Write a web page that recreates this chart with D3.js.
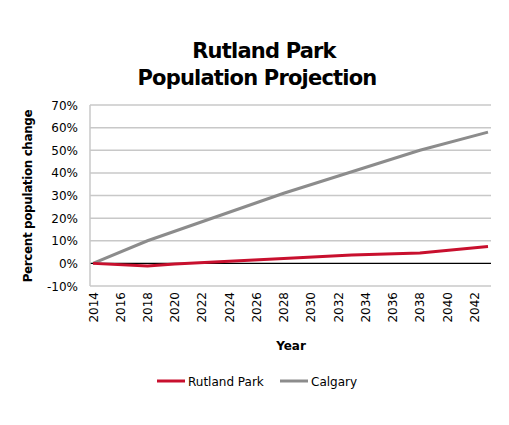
<!DOCTYPE html><html><head><script src="https://cdn.jsdelivr.net/npm/d3@7"></script>
<style>body{margin:0;background:#fff}text{font-family:"DejaVu Sans",sans-serif}</style></head><body>
<svg id="c" width="509" height="425"></svg>
<script>
const yearsRP=[2014,2018,2020,2028,2033,2038,2043];
const valsRP=[0,-1.2,-0.3,2.2,3.7,4.6,7.5];
const yearsCal=[2014,2018,2028,2038,2043];
const valsCal=[0,10,31,50,58];
const xTicks=[2014,2016,2018,2020,2022,2024,2026,2028,2030,2032,2034,2036,2038,2040,2042];
const yTicks=[-10,0,10,20,30,40,50,60,70];
const svg=d3.select("#c");
const x=d3.scaleLinear().domain([2014,2043]).range([93,488]);
const y=d3.scaleLinear().domain([-10,70]).range([286,105]);
svg.append("text").attr("x",264).attr("y",58).attr("text-anchor","middle").attr("font-size",21).attr("font-weight","bold").attr("letter-spacing",-0.8).text("Rutland Park");
svg.append("text").attr("x",257).attr("y",85).attr("text-anchor","middle").attr("font-size",21).attr("font-weight","bold").attr("letter-spacing",-0.8).text("Population Projection");
yTicks.forEach(t=>{svg.append("line").attr("x1",90).attr("x2",491).attr("y1",y(t)).attr("y2",y(t)).attr("stroke",t===0?"#000":"#c8c8c8").attr("stroke-width",t===0?1.2:1.5);
svg.append("text").attr("x",78).attr("y",y(t)+4.5).attr("text-anchor","end").attr("font-size",12).text(t+"%");});
svg.append("line").attr("x1",90).attr("x2",90).attr("y1",105).attr("y2",286).attr("stroke","#c8c8c8").attr("stroke-width",1.5);
xTicks.forEach(t=>svg.append("text").attr("transform",`translate(${x(t)+4.5},292) rotate(-90)`).attr("text-anchor","end").attr("font-size",12).text(t));
svg.append("text").attr("x",291).attr("y",350).attr("text-anchor","middle").attr("font-size",12).attr("font-weight","bold").text("Year");
svg.append("text").attr("transform","translate(32,196) rotate(-90)").attr("text-anchor","middle").attr("font-size",12).attr("font-weight","bold").attr("letter-spacing",-0.4).text("Percent population change");
const line=d3.line().x(d=>x(d[0])).y(d=>y(d[1]));
svg.append("path").attr("d",line(yearsCal.map((v,i)=>[v,valsCal[i]]))).attr("fill","none").attr("stroke","#8c8c8c").attr("stroke-width",3);
svg.append("path").attr("d",line(yearsRP.map((v,i)=>[v,valsRP[i]]))).attr("fill","none").attr("stroke","#c8102e").attr("stroke-width",3);
[["Rutland Park","#c8102e",157],["Calgary","#8c8c8c",280]].forEach(([n,c,lx])=>{
svg.append("line").attr("x1",lx).attr("x2",lx+28).attr("y1",381).attr("y2",381).attr("stroke",c).attr("stroke-width",3);
svg.append("text").attr("x",lx+31).attr("y",385.5).attr("font-size",12).text(n);});
</script></body></html>
